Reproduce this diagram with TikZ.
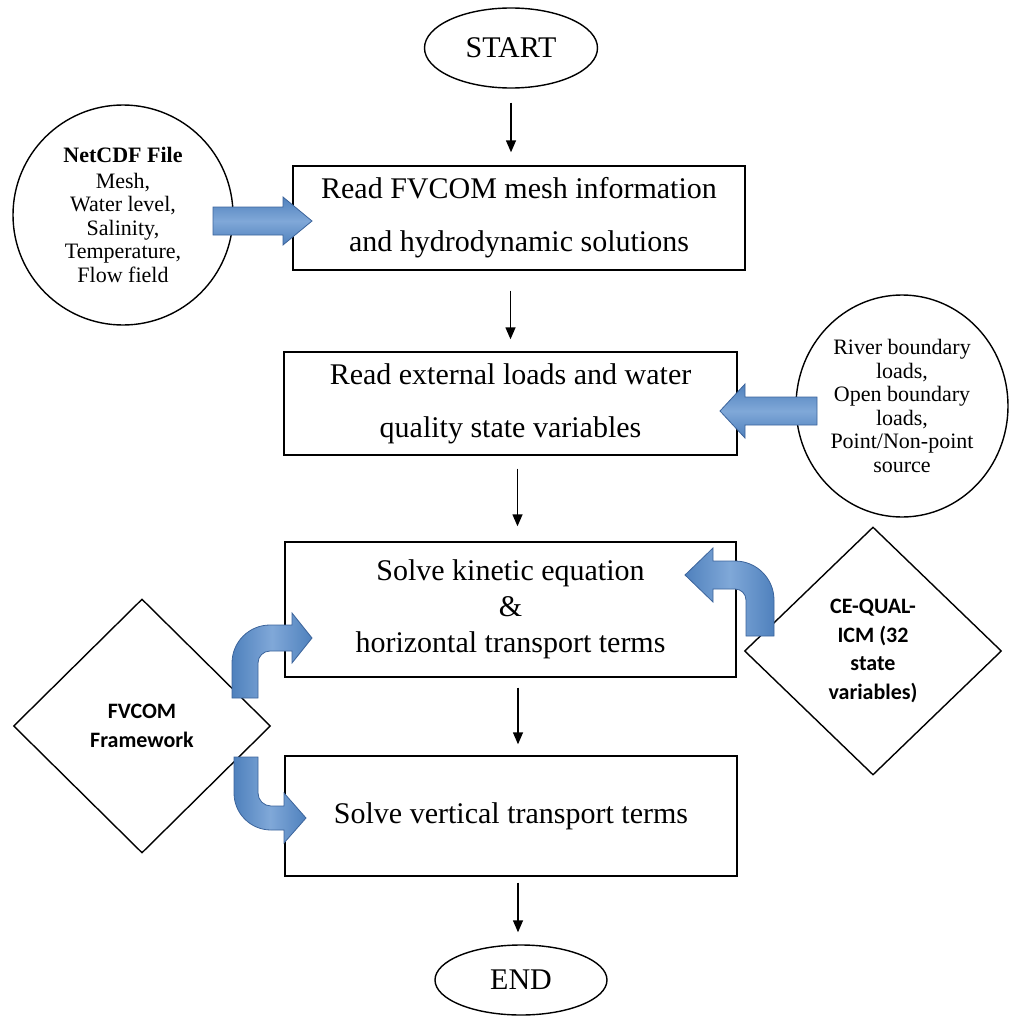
\documentclass[tikz,border=0pt]{standalone}
\usepackage{fontspec}
\setmainfont{Liberation Serif}
\newfontfamily\calibri{Carlito}
\usetikzlibrary{shapes.geometric,arrows.meta,calc}
\definecolor{fatblue}{RGB}{79,129,189}
\definecolor{fatlight}{RGB}{128,168,216}
\definecolor{fatedge}{RGB}{60,100,155}
\begin{document}
\begin{tikzpicture}[x=1pt,y=-1pt,
  box/.style={draw,line width=1.4pt,inner sep=0pt,align=center,font=\fontsize{30}{53}\selectfont},
  term/.style={draw,ellipse,line width=1.4pt,inner sep=0pt,font=\fontsize{30}{36}\selectfont},
  src/.style={draw,ellipse,line width=1.4pt,inner sep=0pt,align=center,font=\fontsize{22}{23.5}\selectfont},
  fw/.style={draw,diamond,line width=1.4pt,inner sep=0pt,align=center,font=\calibri\bfseries\fontsize{22}{28.5}\selectfont},
  flow/.style={line width=1.4pt,-{Triangle[length=12pt,width=10pt]}},
  fat/.style={draw=fatedge,line width=0.8pt,top color=fatblue,bottom color=fatblue,middle color=fatlight},
  fatc/.style={draw=fatedge,line width=0.8pt,left color=fatblue,right color=fatblue,middle color=fatlight}]
\useasboundingbox (0,0) rectangle (1010,1025);
\node[term,minimum width=173pt,minimum height=80pt] (start) at (511,48) {START};
\node[box,minimum width=452pt,minimum height=104pt] (readmesh) at (519,218) {Read FVCOM mesh information\\and hydrodynamic solutions};
\node[box,minimum width=453pt,minimum height=103pt] (extload) at (510.5,403.5) {Read external loads and water\\quality state variables};
\node[box,minimum width=451pt,minimum height=135pt,font=\fontsize{30}{36}\selectfont] (kinetic) at (510.5,609.5) {Solve kinetic equation\\\&\\horizontal transport terms};
\node[box,minimum width=452pt,minimum height=120pt] (vertical) at (511,816) {Solve vertical transport terms};
\node[term,minimum width=172pt,minimum height=70pt] (finish) at (521,980) {END};
\node[src,minimum width=220pt,minimum height=220pt] (netcdf) at (123,215) {\textbf{NetCDF File}\\[2pt]Mesh,\\Water level,\\Salinity,\\Temperature,\\Flow field};
\node[src,minimum width=212pt,minimum height=222pt] (loads) at (902,406) {River boundary\\loads,\\Open boundary\\loads,\\Point/Non-point\\source};
\node[fw,minimum width=257pt,minimum height=248pt] (cequal) at (873,651) {CE-QUAL-\\ICM (32\\state\\variables)};
\node[fw,minimum width=257pt,minimum height=254pt] (fvcom) at (142,726) {FVCOM\\Framework};
\draw[flow,shorten <=14pt,shorten >=13pt] (start.south) -- (start.south |- readmesh.north);
\draw[flow,shorten <=20pt,shorten >=12pt] (extload.north |- readmesh.south) -- (extload.north);
\draw[flow,shorten <=13pt,shorten >=15pt] ($(extload.south)+(7,0)$) -- ($(kinetic.north)+(7,0)$);
\draw[flow,shorten <=10pt,shorten >=11pt] ($(vertical.north |- kinetic.south)+(7,0)$) -- ($(vertical.north)+(7,0)$);
\draw[flow,shorten <=6pt,shorten >=12pt] ($(vertical.south)+(7,0)$) -- ($(vertical.south |- finish.north)+(7,0)$);
\path[fat] (312,221) -- (283,197) -- (283,207) -- (213,207) -- (213,235) -- (283,235) -- (283,245) -- cycle;
\path[fat] (720,411) -- (745,384) -- (745,397) -- (817,397) -- (817,425) -- (745,425) -- (745,438) -- cycle;
\path[fatc] (774,636) -- (774,600) arc[start angle=0,end angle=-90,radius=39] -- (713,561) -- (713,548) -- (685,575)
  -- (713,602) -- (713,589) -- (735,589) arc[start angle=-90,end angle=0,radius=11] -- (746,636) -- cycle;
\path[fatc] (232,698) -- (232,663) arc[start angle=180,end angle=270,radius=38] -- (292,625) -- (292,613) -- (312,638)
  -- (292,663) -- (292,651) -- (270,651) arc[start angle=270,end angle=180,radius=12] -- (258,698) -- cycle;
\path[fatc] (234,757) -- (234,793) arc[start angle=180,end angle=90,radius=37] -- (284,830) -- (284,843) -- (306,818)
  -- (284,793) -- (284,806) -- (271,806) arc[start angle=90,end angle=180,radius=13] -- (258,757) -- cycle;
\end{tikzpicture}
\end{document}
